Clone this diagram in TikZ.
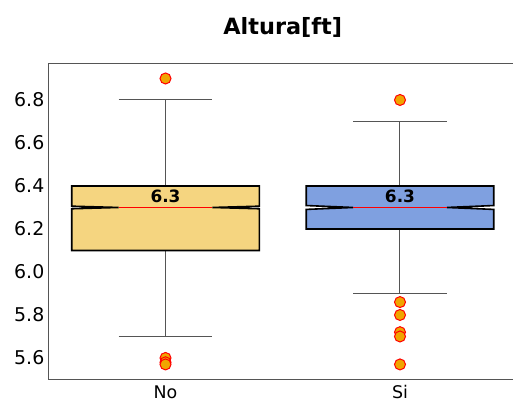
\documentclass[tikz,border=0pt]{standalone}
\usepackage{fontspec}
\setmainfont{DejaVu Sans}
\usepackage{tikz}
\usetikzlibrary{positioning}
\definecolor{boxno}{RGB}{245,213,128}
\definecolor{boxsi}{RGB}{127,160,224}
\definecolor{flier}{RGB}{240,165,0}
\definecolor{spine}{RGB}{85,85,85}
\tikzset{caja/.style={draw=black,line width=1.6bp},
	bigote/.style={draw=spine,line width=1bp},
	eje/.style={draw=spine,line width=1bp},
	mediana/.style={draw=red,line width=1.5bp},
	atipico/.style={circle,draw=red,fill=flier,line width=1bp,minimum size=11bp,inner sep=0pt},
	ytick/.style={anchor=east,inner sep=0pt,font=\fontsize{19}{22}\selectfont},
	xtick/.style={anchor=base,inner sep=0pt,font=\fontsize{17.5}{20}\selectfont},
	valor/.style={anchor=base,inner sep=0pt,font=\fontsize{17}{20}\selectfont\bfseries}}

\begin{document}
\begin{tikzpicture}[x=234.5bp,y=215bp]
	\useasboundingbox (0.2942,5.3907) rectangle (2.4819,7.2651);
	\draw[eje] (2.6,6.9707) -| (0.5,5.5) -- (2.6,5.5);

	\node[font=\fontsize{22.5}{26}\selectfont\bfseries,anchor=base] (titulo) at (1.5,7.1056) {Altura[ft]};
	\foreach \v in {5.6,5.8,6.0,6.2,6.4,6.6,6.8}
		\node[ytick] (y\v) at (0.484,\v) {\v};
	\node[xtick] (xno) at (1,5.4126) {No};
	\node[xtick] (xsi) at (2,5.4126) {Si};

	\draw[bigote] (1,6.4) -- (1,6.8) (0.8,6.8) -- (1.2,6.8);
	\draw[bigote] (1,6.1) -- (1,5.7) (0.8,5.7) -- (1.2,5.7);
	\draw[bigote] (2,6.4) -- (2,6.7) (1.8,6.7) -- (2.2,6.7);
	\draw[bigote] (2,6.2) -- (2,5.9) (1.8,5.9) -- (2.2,5.9);

	\filldraw[caja,fill=boxno] (0.6,6.1) -- (1.4,6.1) -- (1.4,6.294) -- (1.2,6.3) -- (1.4,6.306) -- (1.4,6.4)
		-- (0.6,6.4) -- (0.6,6.306) -- (0.8,6.3) -- (0.6,6.294) -- cycle;
	\filldraw[caja,fill=boxsi] (1.6,6.2) -- (2.4,6.2) -- (2.4,6.291) -- (2.2,6.3) -- (2.4,6.309) -- (2.4,6.4)
		-- (1.6,6.4) -- (1.6,6.309) -- (1.8,6.3) -- (1.6,6.291) -- cycle;
	\draw[mediana] (0.8,6.3) -- (1.2,6.3);
	\draw[mediana] (1.8,6.3) -- (2.2,6.3);
	\node[valor] (mno) at (1,6.3242) {6.3};
	\node[valor] (msi) at (2,6.3242) {6.3};

	\foreach \v [count=\i] in {6.9,5.6,5.58,5.57}
		\node[atipico] (ano\i) at (1,\v) {};
	\foreach \v [count=\i] in {6.8,5.86,5.8,5.72,5.70,5.57}
		\node[atipico] (asi\i) at (2,\v) {};
\end{tikzpicture}
\end{document}
